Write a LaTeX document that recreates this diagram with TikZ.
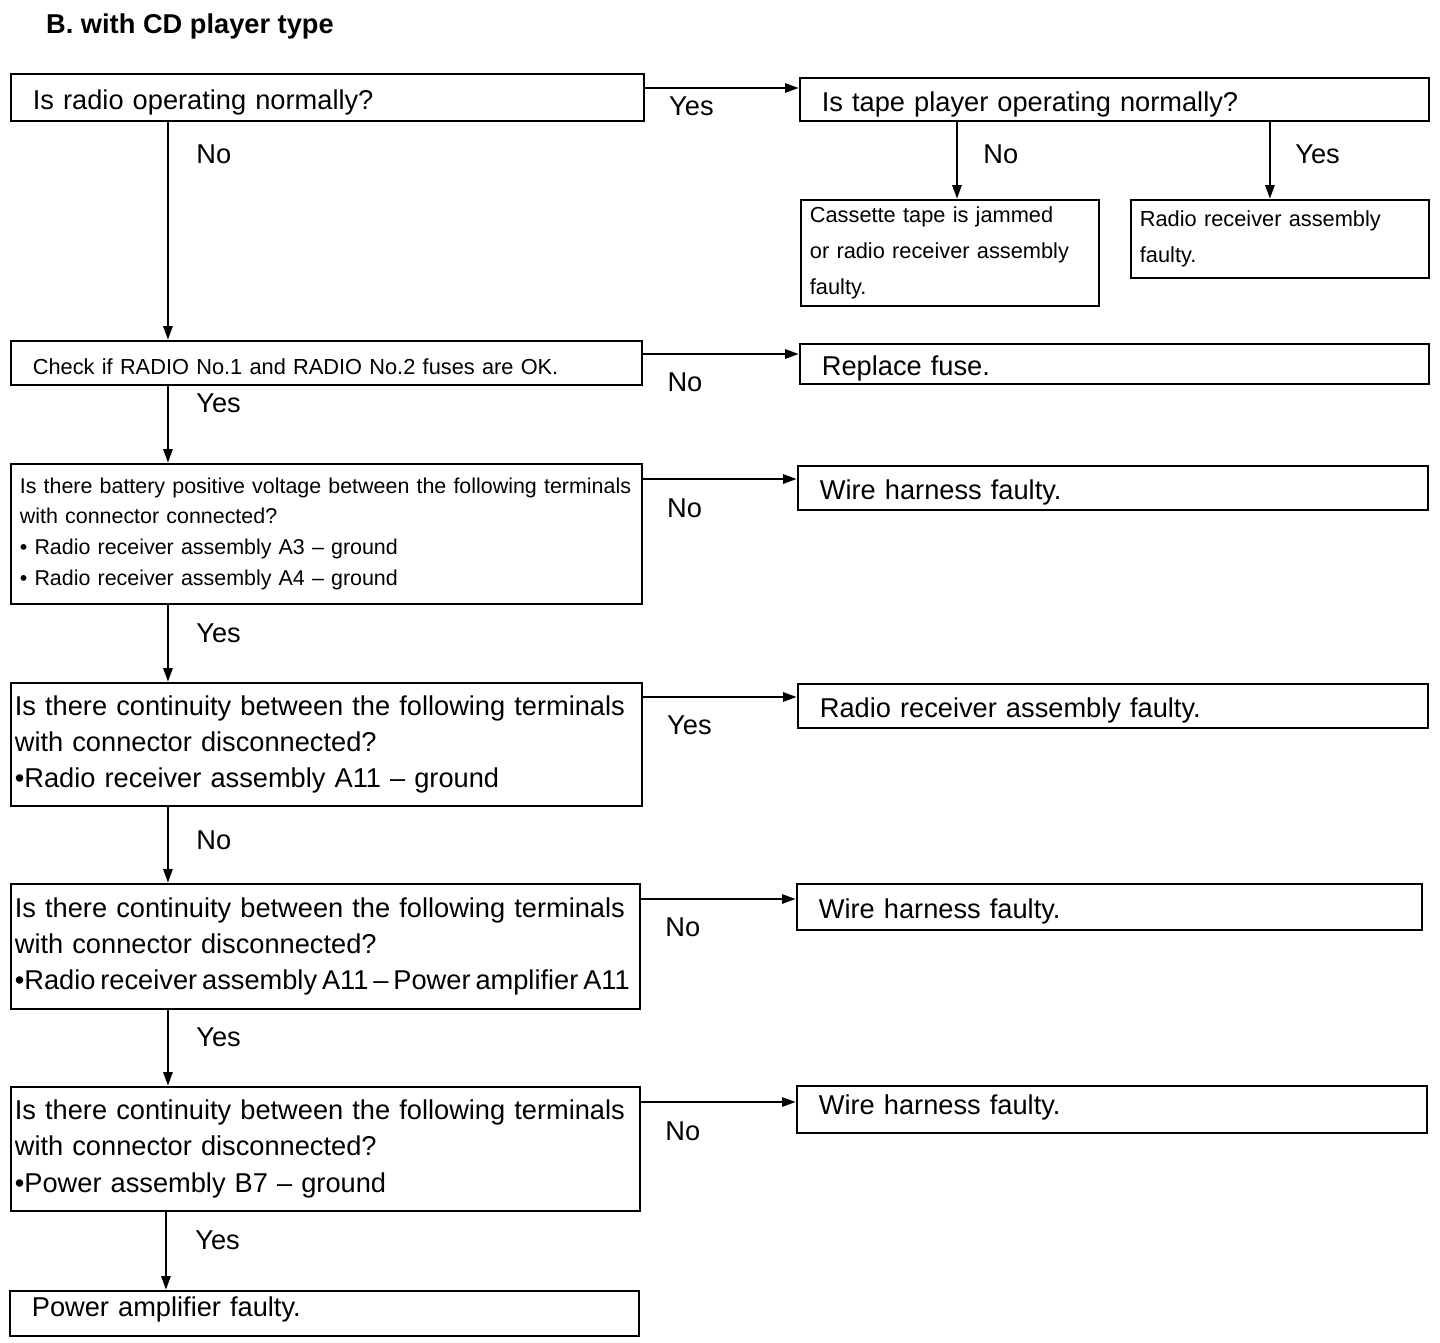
\documentclass[tikz,border=0pt]{standalone}
\usepackage{fontspec}
\setmainfont{Liberation Sans}
\usepackage{tikz}
\usetikzlibrary{arrows.meta}

\newcommand{\bigsize}{\fontsize{15.5}{20.6}\selectfont}
\newcommand{\smallsize}{\fontsize{12.4}{20.4}\selectfont}
\newcommand{\notesize}{\fontsize{12.2}{17.6}\selectfont}

\begin{document}
\begin{tikzpicture}[
  x=0.02cm, y=-0.02cm,
  every node/.style={font=\bigsize},
  box/.style={rectangle, draw=black, line width=1pt, anchor=north west, align=left, inner ysep=0pt},
  ansbox/.style={box, inner xsep=0.44cm, text height=1.35em, text depth=0pt},
  qbox/.style={box, inner xsep=0.08cm},
  notebox/.style={box, inner xsep=0.18cm, font=\smallsize},
  arrow/.style={-{Triangle[length=0.28cm, width=0.18cm]}, line width=1.6pt},
  lbl/.style={inner sep=0pt, anchor=north west}
]
\useasboundingbox (0,0) rectangle (1440,1342);

\node[anchor=base west, font=\bigsize\bfseries] (title) at (40,33) {B. with CD player type};

\node[ansbox, text width=11.78cm, minimum height=0.94cm] (radio) at (10,73) {Is radio operating normally?};
\node[ansbox, text width=11.70cm, minimum height=0.86cm] (tape) at (799,77) {Is tape player operating normally?};
\node[notebox, text width=5.60cm, minimum height=2.12cm] (jammed) at (800,199) {Cassette tape is jammed\\or radio receiver assembly\\faulty.};
\node[notebox, text width=5.60cm, minimum height=1.56cm] (receiver) at (1130,199) {Radio receiver assembly\\faulty.};
\node[ansbox, font=\smallsize, text width=11.74cm, minimum height=0.88cm] (fuses) at (10,340) {Check if RADIO No.1 and RADIO No.2 fuses are OK.};
\node[ansbox, text width=11.70cm, minimum height=0.80cm] (newfuse) at (799,343) {Replace fuse.};
\node[notebox, font=\notesize, text width=12.26cm, minimum height=2.80cm] (battery) at (10,463) {Is there battery positive voltage between the following terminals\\with connector connected?\\• Radio receiver assembly A3 – ground\\• Radio receiver assembly A4 – ground};
\node[ansbox, text width=11.72cm, minimum height=0.88cm] (harness1) at (797,465) {Wire harness faulty.};
\node[qbox, text width=12.46cm, minimum height=2.46cm] (groundA) at (10,682) {Is there continuity between the following terminals\\with connector disconnected?\\•Radio receiver assembly A11 – ground};
\node[ansbox, text width=11.72cm, minimum height=0.88cm] (receiver2) at (797,683) {Radio receiver assembly faulty.};
\node[qbox, text width=12.42cm, minimum height=2.50cm] (ampline) at (10,883) {Is there continuity between the following terminals\\with connector disconnected?\\{\spaceskip=0.18em\relax •Radio receiver assembly A11 – Power amplifier A11}};
\node[ansbox, text width=11.62cm, minimum height=0.92cm] (harness2) at (796,883) {Wire harness faulty.};
\node[qbox, text width=12.42cm, minimum height=2.48cm] (groundB) at (10,1086) {Is there continuity between the following terminals\\with connector disconnected?\\•Power assembly B7 – ground};
\node[ansbox, text height=0.55em, text width=11.72cm, minimum height=0.94cm] (harness3) at (796,1085) {Wire harness faulty.};
\node[ansbox, text height=0.4em, text width=11.70cm, minimum height=0.90cm] (poweramp) at (9,1290) {Power amplifier faulty.};

\draw[arrow] ([yshift=-0.3cm]radio.north east) -- ([yshift=-0.3cm]radio.north east -| tape.west) node[lbl, pos=0.15, yshift=-0.14cm] {Yes};
\draw[arrow] ([xshift=3.16cm]tape.south west) -- ([xshift=3.16cm]tape.south west |- jammed.north) node[lbl, pos=0, xshift=0.5cm, yshift=-0.44cm] {No};
\draw[arrow] ([xshift=9.42cm]tape.south west) -- ([xshift=9.42cm]tape.south west |- receiver.north) node[lbl, pos=0, xshift=0.48cm, yshift=-0.44cm] {Yes};
\draw[arrow] ([xshift=3.16cm]radio.south west) -- ([xshift=3.16cm]radio.south west |- fuses.north) node[lbl, pos=0, xshift=0.54cm, yshift=-0.44cm] {No};

\draw[arrow] ([yshift=-0.28cm]fuses.north east) -- ([yshift=-0.28cm]fuses.north east -| newfuse.west) node[lbl, pos=0.15, yshift=-0.34cm] {No};
\draw[arrow] ([xshift=3.16cm]fuses.south west) -- ([xshift=3.16cm]fuses.south west |- battery.north) node[lbl, pos=0, xshift=0.54cm, yshift=-0.14cm] {Yes};

\draw[arrow] ([yshift=-0.32cm]battery.north east) -- ([yshift=-0.32cm]battery.north east -| harness1.west) node[lbl, pos=0.15, yshift=-0.36cm] {No};
\draw[arrow] ([xshift=3.16cm]battery.south west) -- ([xshift=3.16cm]battery.south west |- groundA.north) node[lbl, pos=0, xshift=0.54cm, yshift=-0.36cm] {Yes};

\draw[arrow] ([yshift=-0.3cm]groundA.north east) -- ([yshift=-0.3cm]groundA.north east -| receiver2.west) node[lbl, pos=0.15, yshift=-0.34cm] {Yes};
\draw[arrow] ([xshift=3.16cm]groundA.south west) -- ([xshift=3.16cm]groundA.south west |- ampline.north) node[lbl, pos=0, xshift=0.54cm, yshift=-0.46cm] {No};

\draw[arrow] ([yshift=-0.32cm]ampline.north east) -- ([yshift=-0.32cm]ampline.north east -| harness2.west) node[lbl, pos=0.15, yshift=-0.34cm] {No};
\draw[arrow] ([xshift=3.16cm]ampline.south west) -- ([xshift=3.16cm]ampline.south west |- groundB.north) node[lbl, pos=0, xshift=0.54cm, yshift=-0.34cm] {Yes};

\draw[arrow] ([yshift=-0.32cm]groundB.north east) -- ([yshift=-0.32cm]groundB.north east -| harness3.west) node[lbl, pos=0.15, yshift=-0.36cm] {No};
\draw[arrow] ([xshift=3.12cm]groundB.south west) -- ([xshift=3.12cm]groundB.south west |- poweramp.north) node[lbl, pos=0, xshift=0.56cm, yshift=-0.36cm] {Yes};
\end{tikzpicture}
\end{document}
